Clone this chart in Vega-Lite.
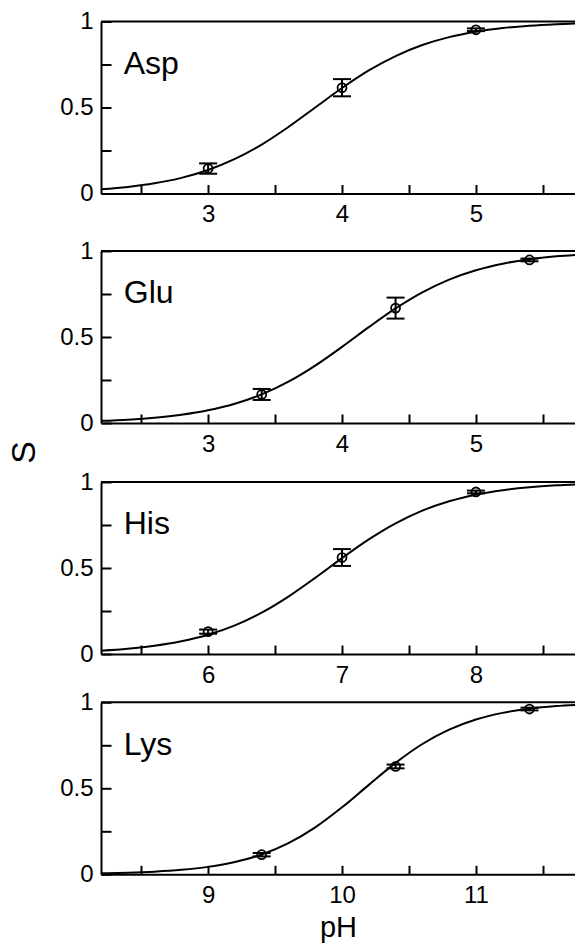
{
  "$schema": "https://vega.github.io/schema/vega-lite/v6.json",
  "padding": {"left": 7, "top": 9.5, "right": 0, "bottom": 0},
  "background": "white",
  "datasets": {
    "curves": [
      {"aa": "Asp", "pH": 2.2, "S": 0.0245}, {"aa": "Asp", "pH": 2.4, "S": 0.0383}, {"aa": "Asp", "pH": 2.6, "S": 0.0594}, {"aa": "Asp", "pH": 2.8, "S": 0.0909},
      {"aa": "Asp", "pH": 3.0, "S": 0.1368}, {"aa": "Asp", "pH": 3.2, "S": 0.2008}, {"aa": "Asp", "pH": 3.4, "S": 0.2847}, {"aa": "Asp", "pH": 3.6, "S": 0.3869},
      {"aa": "Asp", "pH": 3.8, "S": 0.5}, {"aa": "Asp", "pH": 4.0, "S": 0.6131}, {"aa": "Asp", "pH": 4.2, "S": 0.7153}, {"aa": "Asp", "pH": 4.4, "S": 0.7992},
      {"aa": "Asp", "pH": 4.6, "S": 0.8632}, {"aa": "Asp", "pH": 4.8, "S": 0.9091}, {"aa": "Asp", "pH": 5.0, "S": 0.9406}, {"aa": "Asp", "pH": 5.2, "S": 0.9617},
      {"aa": "Asp", "pH": 5.4, "S": 0.9755}, {"aa": "Asp", "pH": 5.6, "S": 0.9844}, {"aa": "Asp", "pH": 5.8, "S": 0.9901},
      {"aa": "Glu", "pH": 2.2, "S": 0.0124}, {"aa": "Glu", "pH": 2.4, "S": 0.0196}, {"aa": "Glu", "pH": 2.6, "S": 0.0307}, {"aa": "Glu", "pH": 2.8, "S": 0.0477},
      {"aa": "Glu", "pH": 3.0, "S": 0.0736}, {"aa": "Glu", "pH": 3.2, "S": 0.1118}, {"aa": "Glu", "pH": 3.4, "S": 0.1663}, {"aa": "Glu", "pH": 3.6, "S": 0.2403},
      {"aa": "Glu", "pH": 3.8, "S": 0.3339}, {"aa": "Glu", "pH": 4.0, "S": 0.4427}, {"aa": "Glu", "pH": 4.2, "S": 0.5573}, {"aa": "Glu", "pH": 4.4, "S": 0.6661},
      {"aa": "Glu", "pH": 4.6, "S": 0.7597}, {"aa": "Glu", "pH": 4.8, "S": 0.8337}, {"aa": "Glu", "pH": 5.0, "S": 0.8882}, {"aa": "Glu", "pH": 5.2, "S": 0.9264},
      {"aa": "Glu", "pH": 5.4, "S": 0.9523}, {"aa": "Glu", "pH": 5.6, "S": 0.9693}, {"aa": "Glu", "pH": 5.8, "S": 0.9804},
      {"aa": "His", "pH": 5.2, "S": 0.0196}, {"aa": "His", "pH": 5.4, "S": 0.0307}, {"aa": "His", "pH": 5.6, "S": 0.0477}, {"aa": "His", "pH": 5.8, "S": 0.0736},
      {"aa": "His", "pH": 6.0, "S": 0.1118}, {"aa": "His", "pH": 6.2, "S": 0.1663}, {"aa": "His", "pH": 6.4, "S": 0.2403}, {"aa": "His", "pH": 6.6, "S": 0.3339},
      {"aa": "His", "pH": 6.8, "S": 0.4427}, {"aa": "His", "pH": 7.0, "S": 0.5573}, {"aa": "His", "pH": 7.2, "S": 0.6661}, {"aa": "His", "pH": 7.4, "S": 0.7597},
      {"aa": "His", "pH": 7.6, "S": 0.8337}, {"aa": "His", "pH": 7.8, "S": 0.8882}, {"aa": "His", "pH": 8.0, "S": 0.9264}, {"aa": "His", "pH": 8.2, "S": 0.9523},
      {"aa": "His", "pH": 8.4, "S": 0.9693}, {"aa": "His", "pH": 8.6, "S": 0.9804}, {"aa": "His", "pH": 8.8, "S": 0.9876},
      {"aa": "Lys", "pH": 8.2, "S": 0.0054}, {"aa": "Lys", "pH": 8.4, "S": 0.0091}, {"aa": "Lys", "pH": 8.6, "S": 0.0154}, {"aa": "Lys", "pH": 8.8, "S": 0.0259},
      {"aa": "Lys", "pH": 9.0, "S": 0.0432}, {"aa": "Lys", "pH": 9.2, "S": 0.0712}, {"aa": "Lys", "pH": 9.4, "S": 0.1152}, {"aa": "Lys", "pH": 9.6, "S": 0.181},
      {"aa": "Lys", "pH": 9.8, "S": 0.2728}, {"aa": "Lys", "pH": 10.0, "S": 0.3893}, {"aa": "Lys", "pH": 10.2, "S": 0.5199}, {"aa": "Lys", "pH": 10.4, "S": 0.6477},
      {"aa": "Lys", "pH": 10.6, "S": 0.7575}, {"aa": "Lys", "pH": 10.8, "S": 0.8413}, {"aa": "Lys", "pH": 11.0, "S": 0.9001}, {"aa": "Lys", "pH": 11.2, "S": 0.9386},
      {"aa": "Lys", "pH": 11.4, "S": 0.9629}, {"aa": "Lys", "pH": 11.6, "S": 0.9778}, {"aa": "Lys", "pH": 11.8, "S": 0.9868}
    ],
    "points": [
      {"aa": "Asp", "pH": 3, "S": 0.145, "err": 0.03}, {"aa": "Asp", "pH": 4, "S": 0.615, "err": 0.05}, {"aa": "Asp", "pH": 5, "S": 0.952, "err": 0.008},
      {"aa": "Glu", "pH": 3.4, "S": 0.166, "err": 0.032}, {"aa": "Glu", "pH": 4.4, "S": 0.668, "err": 0.061}, {"aa": "Glu", "pH": 5.4, "S": 0.948, "err": 0.008},
      {"aa": "His", "pH": 6, "S": 0.13, "err": 0.012}, {"aa": "His", "pH": 7, "S": 0.561, "err": 0.049}, {"aa": "His", "pH": 8, "S": 0.942, "err": 0.008},
      {"aa": "Lys", "pH": 9.4, "S": 0.114, "err": 0.01}, {"aa": "Lys", "pH": 10.4, "S": 0.627, "err": 0.011}, {"aa": "Lys", "pH": 11.4, "S": 0.961, "err": 0.008}
    ]
  },
  "vconcat": [
    {
      "spacing": 12.5,
      "vconcat": [
        {
          "width": 474, "height": 172,
          "layer": [
            {"data": {"name": "curves"}, "transform": [{"filter": "datum.aa === 'Asp'"}],
             "mark": {"type": "line", "interpolate": "monotone", "color": "black", "strokeWidth": 2, "clip": true},
             "encoding": {
               "x": {"field": "pH", "type": "quantitative", "title": null, "scale": {"domain": [2.2, 5.74], "nice": false, "zero": false},
                     "axis": {"values": [2.5, 3, 3.5, 4, 4.5, 5, 5.5], "labelExpr": "datum.value % 1 === 0 ? datum.label : ''", "format": "~g", "title": null}},
               "y": {"field": "S", "type": "quantitative", "title": null, "scale": {"domain": [0, 1], "nice": false},
                     "axis": {"values": [0, 0.25, 0.5, 0.75, 1], "labelExpr": "datum.value === 0.25 || datum.value === 0.75 ? '' : datum.label", "format": "~g", "title": null}}
             }},
            {"data": {"name": "points"}, "transform": [{"filter": "datum.aa === 'Asp'"}],
             "mark": {"type": "errorbar", "color": "black", "opacity": 1, "ticks": {"size": 18, "thickness": 2, "color": "black", "opacity": 1}, "rule": {"strokeWidth": 2, "color": "black", "opacity": 1}},
             "encoding": {"x": {"field": "pH", "type": "quantitative", "title": null}, "y": {"field": "S", "type": "quantitative", "title": null}, "yError": {"field": "err"}}},
            {"data": {"name": "points"}, "transform": [{"filter": "datum.aa === 'Asp'"}],
             "mark": {"type": "point", "shape": "circle", "filled": false, "stroke": "black", "strokeWidth": 1.8, "size": 80, "opacity": 1},
             "encoding": {"x": {"field": "pH", "type": "quantitative", "title": null}, "y": {"field": "S", "type": "quantitative", "title": null}}},
            {"data": {"values": [{"aa": "Asp"}]},
             "mark": {"type": "text", "font": "Liberation Sans", "fontSize": 32, "align": "left", "baseline": "alphabetic", "color": "black"},
             "encoding": {"x": {"datum": 2.37, "title": null}, "y": {"datum": 0.695, "title": null}, "text": {"field": "aa"}}},
            {"data": {"values": [{"aa": "Asp"}]},
             "mark": {"type": "rule", "strokeWidth": 2, "color": "black"},
             "encoding": {"y": {"datum": 1, "title": null}}}
          ]
        },
        {
          "width": 474, "height": 172,
          "layer": [
            {"data": {"name": "curves"}, "transform": [{"filter": "datum.aa === 'Glu'"}],
             "mark": {"type": "line", "interpolate": "monotone", "color": "black", "strokeWidth": 2, "clip": true},
             "encoding": {
               "x": {"field": "pH", "type": "quantitative", "title": null, "scale": {"domain": [2.2, 5.74], "nice": false, "zero": false},
                     "axis": {"values": [2.5, 3, 3.5, 4, 4.5, 5, 5.5], "labelExpr": "datum.value % 1 === 0 ? datum.label : ''", "format": "~g", "title": null}},
               "y": {"field": "S", "type": "quantitative", "scale": {"domain": [0, 1], "nice": false},
                     "axis": {"values": [0, 0.25, 0.5, 0.75, 1], "labelExpr": "datum.value === 0.25 || datum.value === 0.75 ? '' : datum.label", "format": "~g",
                              "title": "S", "titleX": -77, "titleY": 201, "titleFontSize": 34, "titleBaseline": "middle", "titleAlign": "center", "titleAngle": 270}}
             }},
            {"data": {"name": "points"}, "transform": [{"filter": "datum.aa === 'Glu'"}],
             "mark": {"type": "errorbar", "color": "black", "opacity": 1, "ticks": {"size": 18, "thickness": 2, "color": "black", "opacity": 1}, "rule": {"strokeWidth": 2, "color": "black", "opacity": 1}},
             "encoding": {"x": {"field": "pH", "type": "quantitative", "title": null}, "y": {"field": "S", "type": "quantitative"}, "yError": {"field": "err"}}},
            {"data": {"name": "points"}, "transform": [{"filter": "datum.aa === 'Glu'"}],
             "mark": {"type": "point", "shape": "circle", "filled": false, "stroke": "black", "strokeWidth": 1.8, "size": 80, "opacity": 1},
             "encoding": {"x": {"field": "pH", "type": "quantitative", "title": null}, "y": {"field": "S", "type": "quantitative"}}},
            {"data": {"values": [{"aa": "Glu"}]},
             "mark": {"type": "text", "font": "Liberation Sans", "fontSize": 32, "align": "left", "baseline": "alphabetic", "color": "black"},
             "encoding": {"x": {"datum": 2.37, "title": null}, "y": {"datum": 0.695}, "text": {"field": "aa"}}},
            {"data": {"values": [{"aa": "Glu"}]},
             "mark": {"type": "rule", "strokeWidth": 2, "color": "black"},
             "encoding": {"y": {"datum": 1}}}
          ]
        }
      ]
    },
    {
      "spacing": 3.3,
      "vconcat": [
        {
          "width": 474, "height": 172,
          "layer": [
            {"data": {"name": "curves"}, "transform": [{"filter": "datum.aa === 'His'"}],
             "mark": {"type": "line", "interpolate": "monotone", "color": "black", "strokeWidth": 2, "clip": true},
             "encoding": {
               "x": {"field": "pH", "type": "quantitative", "title": null, "scale": {"domain": [5.2, 8.74], "nice": false, "zero": false},
                     "axis": {"values": [5.5, 6, 6.5, 7, 7.5, 8, 8.5], "labelExpr": "datum.value % 1 === 0 ? datum.label : ''", "format": "~g", "title": null}},
               "y": {"field": "S", "type": "quantitative", "title": null, "scale": {"domain": [0, 1], "nice": false},
                     "axis": {"values": [0, 0.25, 0.5, 0.75, 1], "labelExpr": "datum.value === 0.25 || datum.value === 0.75 ? '' : datum.label", "format": "~g", "title": null}}
             }},
            {"data": {"name": "points"}, "transform": [{"filter": "datum.aa === 'His'"}],
             "mark": {"type": "errorbar", "color": "black", "opacity": 1, "ticks": {"size": 18, "thickness": 2, "color": "black", "opacity": 1}, "rule": {"strokeWidth": 2, "color": "black", "opacity": 1}},
             "encoding": {"x": {"field": "pH", "type": "quantitative", "title": null}, "y": {"field": "S", "type": "quantitative", "title": null}, "yError": {"field": "err"}}},
            {"data": {"name": "points"}, "transform": [{"filter": "datum.aa === 'His'"}],
             "mark": {"type": "point", "shape": "circle", "filled": false, "stroke": "black", "strokeWidth": 1.8, "size": 80, "opacity": 1},
             "encoding": {"x": {"field": "pH", "type": "quantitative", "title": null}, "y": {"field": "S", "type": "quantitative", "title": null}}},
            {"data": {"values": [{"aa": "His"}]},
             "mark": {"type": "text", "font": "Liberation Sans", "fontSize": 32, "align": "left", "baseline": "alphabetic", "color": "black"},
             "encoding": {"x": {"datum": 5.37, "title": null}, "y": {"datum": 0.695, "title": null}, "text": {"field": "aa"}}},
            {"data": {"values": [{"aa": "His"}]},
             "mark": {"type": "rule", "strokeWidth": 2, "color": "black"},
             "encoding": {"y": {"datum": 1, "title": null}}}
          ]
        },
        {
          "width": 474, "height": 172,
          "layer": [
            {"data": {"name": "curves"}, "transform": [{"filter": "datum.aa === 'Lys'"}],
             "mark": {"type": "line", "interpolate": "monotone", "color": "black", "strokeWidth": 2, "clip": true},
             "encoding": {
               "x": {"field": "pH", "type": "quantitative", "scale": {"domain": [8.2, 11.74], "nice": false, "zero": false},
                     "axis": {"values": [8.5, 9, 9.5, 10, 10.5, 11, 11.5], "labelExpr": "datum.value % 1 === 0 ? datum.label : ''", "format": "~g",
                              "title": "pH", "titleFontSize": 29, "titleY": 62, "titleBaseline": "alphabetic"}},
               "y": {"field": "S", "type": "quantitative", "title": null, "scale": {"domain": [0, 1], "nice": false},
                     "axis": {"values": [0, 0.25, 0.5, 0.75, 1], "labelExpr": "datum.value === 0.25 || datum.value === 0.75 ? '' : datum.label", "format": "~g", "title": null}}
             }},
            {"data": {"name": "points"}, "transform": [{"filter": "datum.aa === 'Lys'"}],
             "mark": {"type": "errorbar", "color": "black", "opacity": 1, "ticks": {"size": 18, "thickness": 2, "color": "black", "opacity": 1}, "rule": {"strokeWidth": 2, "color": "black", "opacity": 1}},
             "encoding": {"x": {"field": "pH", "type": "quantitative"}, "y": {"field": "S", "type": "quantitative", "title": null}, "yError": {"field": "err"}}},
            {"data": {"name": "points"}, "transform": [{"filter": "datum.aa === 'Lys'"}],
             "mark": {"type": "point", "shape": "circle", "filled": false, "stroke": "black", "strokeWidth": 1.8, "size": 80, "opacity": 1},
             "encoding": {"x": {"field": "pH", "type": "quantitative"}, "y": {"field": "S", "type": "quantitative", "title": null}}},
            {"data": {"values": [{"aa": "Lys"}]},
             "mark": {"type": "text", "font": "Liberation Sans", "fontSize": 32, "align": "left", "baseline": "alphabetic", "color": "black"},
             "encoding": {"x": {"datum": 8.37}, "y": {"datum": 0.695, "title": null}, "text": {"field": "aa"}}},
            {"data": {"values": [{"aa": "Lys"}]},
             "mark": {"type": "rule", "strokeWidth": 2, "color": "black"},
             "encoding": {"y": {"datum": 1, "title": null}}}
          ]
        }
      ]
    }
  ],
  "spacing": 6.5,
  "config": {
    "view": {"stroke": null},
    "axis": {"labelFont": "Liberation Sans", "labelFontSize": 24, "labelColor": "black", "domainColor": "black", "domainWidth": 2,
             "tickColor": "black", "tickWidth": 2, "grid": false, "labelFlush": false, "labelOverlap": false,
             "titleFont": "Liberation Sans", "titleFontWeight": "normal", "titleColor": "black"},
    "axisX": {"tickSize": -9, "labelPadding": 18},
    "axisY": {"tickSize": -10, "labelPadding": 18}
  }
}
